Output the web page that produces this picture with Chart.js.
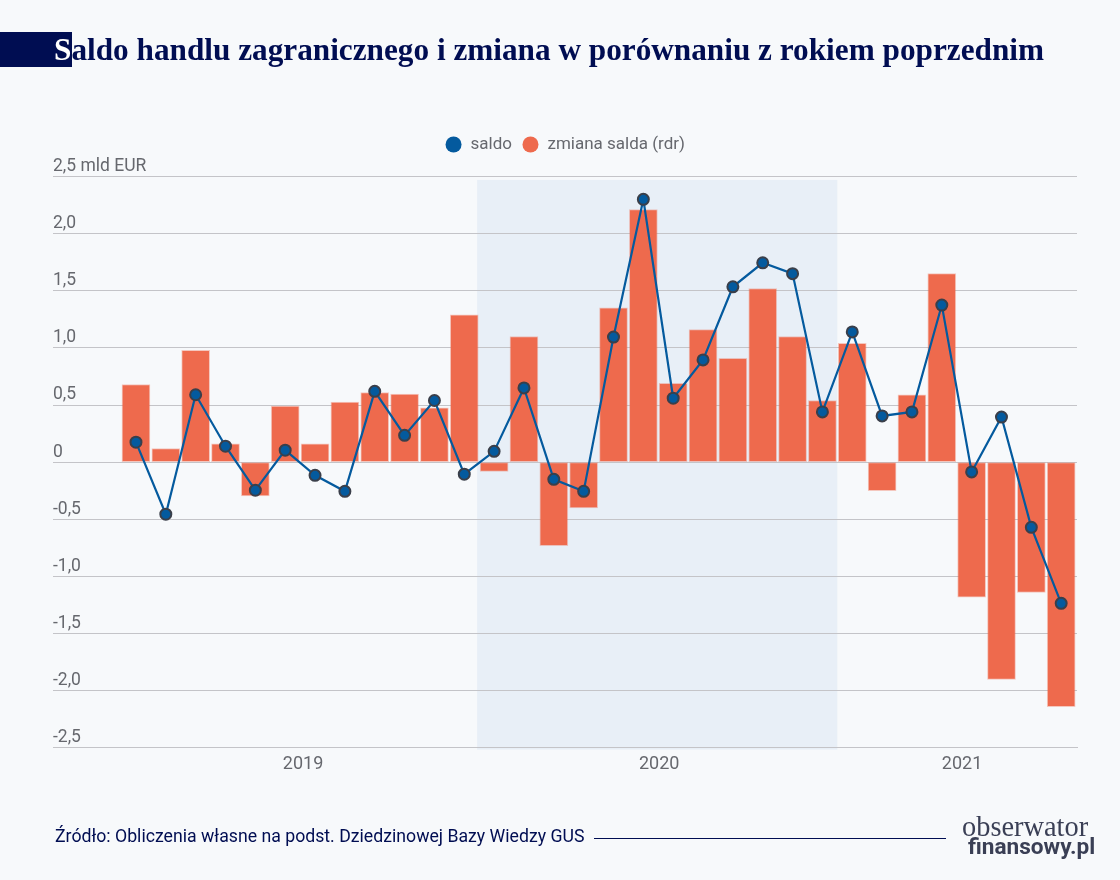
<!DOCTYPE html>
<html lang="pl">
<head>
<meta charset="utf-8">
<title>Saldo handlu zagranicznego</title>
<script src="https://cdn.jsdelivr.net/npm/chart.js@4"></script>
<style>
html, body { margin: 0; padding: 0; background: #f7f9fb; }
#page { position: relative; width: 1120px; height: 880px; overflow: hidden; background: #f7f9fb; }
#chart { position: absolute; left: 0; top: 0; }
#titlebox { position: absolute; left: 0; top: 32px; width: 72px; height: 35px; background: #000d52; }
#title { position: absolute; left: 54px; top: 32px; white-space: nowrap; font: bold 31.25px "Liberation Serif", serif; color: #000d52; }
#title span { color: #fff; }
#source { position: absolute; left: 55px; top: 826px; white-space: nowrap; font: 17.7px Roboto, sans-serif; color: #000d52; }
#rule { position: absolute; left: 594px; top: 838px; width: 352px; height: 1px; background: #000d52; }
#logo1 { position: absolute; left: 962px; top: 811px; white-space: nowrap; font: 28.4px "Liberation Serif", serif; color: #3a3f55; }
#logo2 { position: absolute; left: 968px; top: 833px; white-space: nowrap; font: bold 22.6px Roboto, sans-serif; color: #3a3f55; }
</style>
</head>
<body>
<div id="page">
  <canvas id="chart" width="1120" height="880"></canvas>
  <div id="titlebox"></div>
  <div id="title"><span>S</span>aldo handlu zagranicznego i zmiana w porównaniu z rokiem poprzednim</div>
  <div id="source">Źródło: Obliczenia własne na podst. Dziedzinowej Bazy Wiedzy GUS</div>
  <div id="rule"></div>
  <div id="logo1">obserwator</div>
  <div id="logo2">finansowy.pl</div>
</div>
<script>
// miesiace styczen 2019 - sierpien 2021
const months = [
    '2019-01', '2019-02', '2019-03', '2019-04', '2019-05', '2019-06', '2019-07', '2019-08', '2019-09', '2019-10', '2019-11', '2019-12',
    '2020-01', '2020-02', '2020-03', '2020-04', '2020-05', '2020-06', '2020-07', '2020-08', '2020-09', '2020-10', '2020-11', '2020-12',
    '2021-01', '2021-02', '2021-03', '2021-04', '2021-05', '2021-06', '2021-07', '2021-08'
];
const saldo = [
    0.175, -0.455, 0.59, 0.14, -0.245, 0.105, -0.115, -0.255, 0.62, 0.235, 0.54, -0.105,
    0.095, 0.65, -0.15, -0.255, 1.095, 2.30, 0.56, 0.895, 1.535, 1.745, 1.65, 0.44,
    1.14, 0.405, 0.44, 1.375, -0.085, 0.395, -0.57, -1.235
];
const zmiana = [
    0.68, 0.12, 0.98, 0.16, -0.295, 0.49, 0.16, 0.525, 0.61, 0.595, 0.475, 1.29,
    -0.08, 1.10, -0.73, -0.40, 1.35, 2.21, 0.69, 1.16, 0.91, 1.52, 1.10, 0.54,
    1.04, -0.25, 0.59, 1.65, -1.18, -1.90, -1.14, -2.14
];
const years = ['2019', '2020', '2021'];
const highlightYear = '2020';

const yearIdx = y => months.map((m, i) => m.startsWith(y) ? i : -1).filter(i => i >= 0);
const yearCenter = y => { const a = yearIdx(y); return (a[0] + a[a.length - 1]) / 2; };
const toPoints = arr => arr.map((v, i) => ({ x: i, y: v }));
// etykiety lat nie sa idealnie na srodku
const labelNudge = { 2019: 0.1, 2020: 0.03, 2021: 0.18 };
const yearTick = y => yearCenter(y) + labelNudge[y];

// tlo dla wyroznionego roku
const bandPlugin = {
    id: 'band',
    beforeInit(chart) {
        // stala wysokosc legendy, zeby odsunac ja od wykresu
        const fit = chart.legend.fit;
        chart.legend.fit = function () {
            fit.call(this);
            this.height = 50.5;
        };
    },
    beforeDraw(chart) {
        const { ctx, scales } = chart;
        const a = yearIdx(highlightYear);
        const x1 = scales.x.getPixelForValue(a[0] - 0.57);
        const x2 = scales.x.getPixelForValue(a[a.length - 1] + 0.5);
        const y1 = scales.y.getPixelForValue(2.47);
        const y2 = scales.y.getPixelForValue(-2.515);
        ctx.save();
        ctx.fillStyle = '#e8eff7';
        ctx.fillRect(x1, y1, x2 - x1, y2 - y1);
        ctx.restore();
    }
};

new Chart(document.getElementById('chart').getContext('2d'), {
    data: {
        datasets: [
            {
                type: 'line',
                label: 'saldo',
                data: toPoints(saldo),
                order: 1,
                borderColor: '#045a9e',
                borderWidth: 2.2,
                tension: 0,
                pointRadius: 5.5,
                pointBorderWidth: 2,
                pointBorderColor: '#3a3f4a',
                pointBackgroundColor: '#045a9e'
            },
            {
                type: 'bar',
                label: 'zmiana salda (rdr)',
                data: toPoints(zmiana),
                order: 2,
                grouped: false,
                barThickness: 28,
                backgroundColor: '#ee6a4d',
                borderColor: 'rgba(238, 106, 77, 0.35)',
                borderWidth: 1,
                borderSkipped: false
            }
        ]
    },
    options: {
        responsive: false,
        animation: false,
        layout: { padding: { left: 53, right: 43, top: 126, bottom: 106.5 } },
        plugins: {
            tooltip: { enabled: false },
            legend: {
                position: 'top',
                labels: {
                    color: '#66686e',
                    font: { family: 'Roboto', size: 17 },
                    boxHeight: 11.3,
                    padding: 10,
                    generateLabels: () => [
                        { text: 'saldo', fillStyle: '#045a9e', strokeStyle: '#045a9e', lineWidth: 0, pointStyle: 'circle', fontColor: '#66686e' },
                        { text: 'zmiana salda (rdr)', fillStyle: '#ee6a4d', strokeStyle: '#ee6a4d', lineWidth: 0, pointStyle: 'circle', fontColor: '#66686e' }
                    ],
                    usePointStyle: true
                }
            }
        },
        scales: {
            x: {
                type: 'linear',
                offset: false,
                min: -2.78,
                max: 31.53,
                afterBuildTicks: scale => {
                    scale.ticks = years.map(y => ({ value: yearTick(y) }));
                },
                ticks: {
                    autoSkip: false,
                    maxRotation: 0,
                    padding: -2,
                    color: '#66686e',
                    font: { family: 'Roboto', size: 18 },
                    callback: v => years.find(y => yearTick(y) === v)
                },
                grid: { display: false },
                border: { color: '#c4c4c8', width: 1 }
            },
            y: {
                min: -2.5,
                max: 2.5,
                ticks: {
                    stepSize: 0.5,
                    mirror: true,
                    padding: 0,
                    labelOffset: -10,
                    color: '#66686e',
                    font: { family: 'Roboto', size: 17.5 },
                    callback: v => {
                        if (v === 0) return '0';
                        const s = v.toFixed(1).replace('.', ',');
                        return v === 2.5 ? s + ' mld EUR' : s;
                    }
                },
                grid: { color: '#c4c4c8', lineWidth: 1, drawTicks: false },
                border: { display: false }
            }
        }
    },
    plugins: [bandPlugin]
});
</script>
</body>
</html>
